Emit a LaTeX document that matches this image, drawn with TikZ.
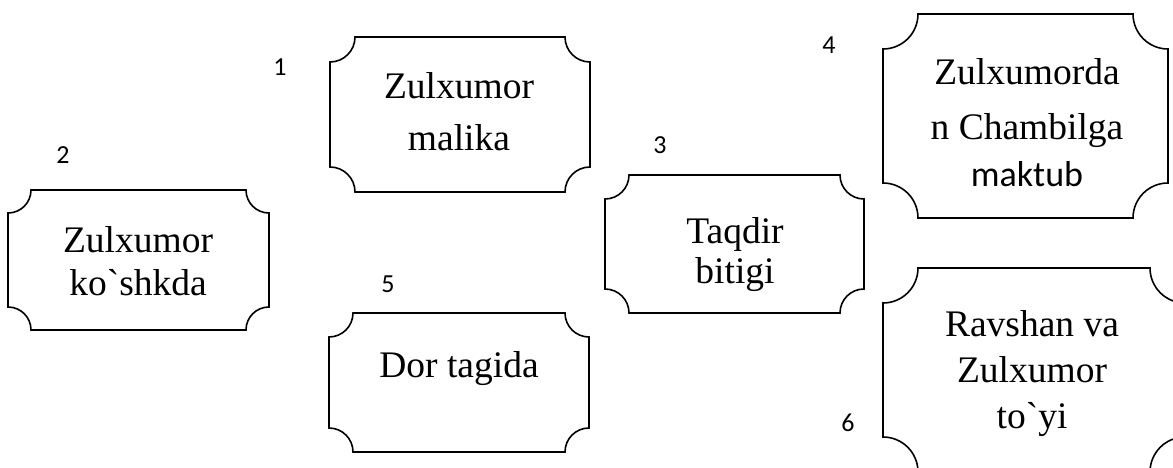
\documentclass[tikz,border=0pt]{standalone}
\usepackage{fontspec}
\setmainfont{Liberation Serif}[Ligatures=TeXOff]
\newfontfamily\calibri{Carlito}
\tikzset{
  plaque/.style={draw=none, inner sep=0pt, outer sep=0pt},
  plaqueline/.style={draw=black, line width=1.6pt, line join=miter},
  boxtext/.style={inner sep=0pt, align=center, font=\fontsize{37.5}{#1}\selectfont},
  num/.style={inner sep=0pt, font=\calibri\fontsize{26}{30}\selectfont},
}
\newcommand\plaqueframe[2]{%
  \draw[plaqueline] ([xshift=#2]#1.north west) -- ([xshift=-#2]#1.north east)
    arc[start angle=180,end angle=270,radius=#2] -- ([yshift=#2]#1.south east)
    arc[start angle=90,end angle=180,radius=#2] -- ([xshift=#2]#1.south west)
    arc[start angle=0,end angle=90,radius=#2] -- ([yshift=-#2]#1.north west)
    arc[start angle=270,end angle=360,radius=#2] -- cycle;}
\begin{document}
\begin{tikzpicture}[x=1pt,y=1pt]
\useasboundingbox (0,0) rectangle (1173,467);
\clip (0,0) rectangle (1173,467);
% plaques
\node[plaque, minimum width=260pt, minimum height=155pt] (b1) at (460,352.5) {};
\node[plaque, minimum width=261pt, minimum height=140pt] (b2) at (138.5,207) {};
\node[plaque, minimum width=259pt, minimum height=138pt] (b3) at (734.5,223) {};
\node[plaque, minimum width=285pt, minimum height=204pt] (b4) at (1025.5,351) {};
\node[plaque, minimum width=260pt, minimum height=139pt] (b5) at (459,84.5) {};
\node[plaque, minimum width=302pt, minimum height=204pt] (b6) at (1034,97) {};
\plaqueframe{b1}{25pt}
\plaqueframe{b2}{23pt}
\plaqueframe{b3}{24pt}
\plaqueframe{b4}{35pt}
\plaqueframe{b5}{24pt}
\plaqueframe{b6}{35pt}
% texts
\node[boxtext=52] (t1) at (459,355) {Zulxumor\\malika};
\node[boxtext=43] (t2) at (138,206) {Zulxumor\\ko`shkda};
\node[boxtext=40] (t3) at (735,212) {Taqdir\\bitigi};
\node[boxtext=55] (t4) at (1027,344) {Zulxumorda\\n Chambilga\\[-8pt]{\calibri\fontsize{36}{40}\selectfont maktub}};
\node[boxtext=50] (t5) at (459,98.5) {Dor tagida};
\node[boxtext=46] (t6) at (1032,93) {Ravshan va\\Zulxumor\\to`yi};
% numbers
\node[num] (n1) at (280,400) {1};
\node[num] (n2) at (63,312) {2};
\node[num] (n3) at (660,322) {3};
\node[num] (n4) at (829,422) {4};
\node[num] (n5) at (388,183) {5};
\node[num] (n6) at (848,44) {6};
\end{tikzpicture}
\end{document}
